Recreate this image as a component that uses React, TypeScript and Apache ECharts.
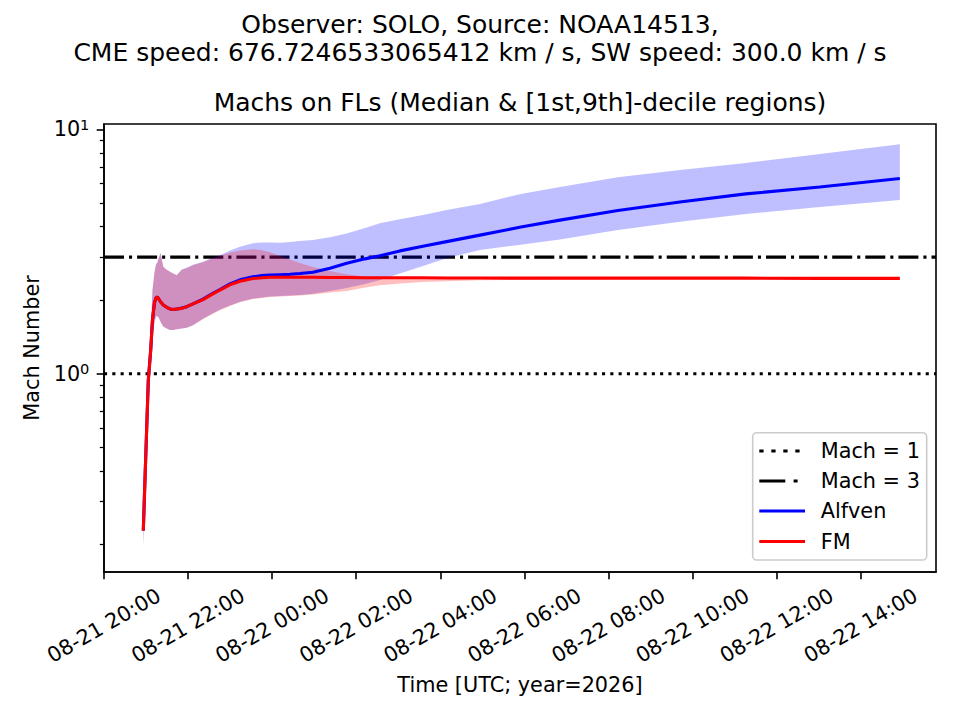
import React, { useEffect, useRef } from "react";
import * as echarts from "echarts";

const FONT = '"DejaVu Sans", "Liberation Sans", sans-serif';

// ---- texts ----
const suptitleLines = [
  "Observer: SOLO, Source: NOAA14513,",
  "CME speed: 676.7246533065412 km / s, SW speed: 300.0 km / s",
];
const axesTitle = "Machs on FLs (Median & [1st,9th]-decile regions)";
const xLabel = "Time [UTC; year=2026]";
const yLabel = "Mach Number";
const legendLabels = ["Mach = 1", "Mach = 3", "Alfven", "FM"];

// ---- ticks (hours counted from 08-21 00:00) ----
const xTickHours = [20, 22, 24, 26, 28, 30, 32, 34, 36, 38];
const yMajorTicks = [1, 10];
const yMinorTicks = [0.2, 0.3, 0.4, 0.5, 0.6, 0.7, 0.8, 0.9, 2, 3, 4, 5, 6, 7, 8, 9];
const machLevels = [1, 3];
const xMin = 20;
const xMax = 39.79;
const yMin = 0.1544;
const yMax = 10.51;

// ---- data: time in hours since 2026-08-21 00:00 UTC ----
const times = [
  20.935, 20.975, 21.054, 21.111, 21.153, 21.201, 21.237, 21.268, 21.296, 21.344,
  21.41, 21.491, 21.57, 21.648, 21.729, 21.848, 21.967, 22.117, 22.354, 22.568,
  22.759, 22.996, 23.234, 23.543, 23.757, 23.948, 24.186, 24.423, 24.661, 24.97,
  25.375, 25.772, 26.207, 26.564, 27.039, 27.586, 28.15, 28.942, 29.917, 30.844,
  32.223, 33.698, 35.267, 37.027, 38.93,
];
const alfvenMedian = [
  0.228, 0.37, 0.94, 1.25, 1.66, 1.95, 2.04, 2.06, 2.03, 1.97,
  1.91, 1.87, 1.84, 1.83, 1.84, 1.855, 1.88, 1.93, 2.02, 2.12,
  2.21, 2.33, 2.42, 2.49, 2.52, 2.53, 2.54, 2.55, 2.57, 2.6,
  2.7, 2.83, 2.95, 3.04, 3.18, 3.32, 3.47, 3.69, 3.98, 4.25,
  4.65, 5.04, 5.44, 5.81, 6.29,
];
const alfvenLow = [
  0.197, 0.33, 0.85, 1.15, 1.45, 1.62, 1.72, 1.72, 1.7, 1.63,
  1.56, 1.53, 1.51, 1.51, 1.52, 1.53, 1.54, 1.58, 1.68, 1.76,
  1.83, 1.9, 1.97, 2.03, 2.05, 2.07, 2.08, 2.09, 2.1, 2.125,
  2.18, 2.24, 2.33, 2.42, 2.57, 2.76, 2.97, 3.21, 3.37, 3.54,
  3.87, 4.18, 4.5, 4.81, 5.14,
];
const alfvenHigh = [
  0.24, 0.42, 1.05, 1.45, 2.2, 2.6, 2.8, 2.85, 2.95, 3.13,
  2.74, 2.66, 2.61, 2.57, 2.53, 2.67, 2.71, 2.79, 2.87, 2.97,
  3.05, 3.19, 3.31, 3.42, 3.44, 3.44, 3.43, 3.46, 3.49, 3.52,
  3.62, 3.75, 3.95, 4.13, 4.28, 4.46, 4.68, 4.95, 5.44, 5.81,
  6.36, 6.82, 7.28, 7.92, 8.68,
];
const fmMedian = [
  0.228, 0.37, 0.94, 1.25, 1.66, 1.95, 2.04, 2.06, 2.03, 1.97,
  1.91, 1.87, 1.84, 1.83, 1.84, 1.85, 1.88, 1.93, 2.01, 2.11,
  2.2, 2.31, 2.39, 2.45, 2.47, 2.48, 2.48, 2.48, 2.48, 2.48,
  2.475, 2.475, 2.47, 2.47, 2.47, 2.47, 2.465, 2.465, 2.46, 2.46,
  2.46, 2.46, 2.46, 2.455, 2.455,
];
const fmLow = [
  0.197, 0.33, 0.85, 1.15, 1.45, 1.62, 1.72, 1.72, 1.7, 1.63,
  1.56, 1.53, 1.51, 1.51, 1.52, 1.53, 1.54, 1.58, 1.67, 1.75,
  1.82, 1.89, 1.96, 2.02, 2.04, 2.06, 2.07, 2.08, 2.09, 2.11,
  2.15, 2.18, 2.25, 2.3, 2.34, 2.37, 2.39, 2.41, 2.42, 2.43,
  2.435, 2.44, 2.44, 2.44, 2.44,
];
const fmHigh = [
  0.24, 0.42, 1.05, 1.45, 2.2, 2.6, 2.8, 2.85, 2.95, 3.1,
  2.74, 2.66, 2.61, 2.57, 2.53, 2.66, 2.7, 2.78, 2.86, 2.96,
  3.03, 3.13, 3.19, 3.23, 3.2, 3.14, 3.03, 2.93, 2.84, 2.73,
  2.63, 2.55, 2.5, 2.49, 2.49, 2.485, 2.48, 2.48, 2.475, 2.475,
  2.47, 2.47, 2.47, 2.465, 2.465,
];

const pad2 = (n: number) => String(n).padStart(2, "0");
const fmtTime = (v: number) => {
  const day = 21 + Math.floor(v / 24);
  const h = Math.round(v - (day - 21) * 24);
  return `08-${day} ${pad2(h)}:00`;
};

const bandSeries = (name: string, low: number[], high: number[], fill: string) => ({
  type: "custom",
  name,
  coordinateSystem: "cartesian2d",
  silent: true,
  z: 2,
  data: [[times[0], low[0]]],
  encode: { x: 0, y: 1 },
  renderItem: (_params: any, api: any) => {
    const pts: number[][] = [];
    for (let i = 0; i < times.length; i++) pts.push(api.coord([times[i], high[i]]));
    for (let i = times.length - 1; i >= 0; i--) pts.push(api.coord([times[i], low[i]]));
    return { type: "polygon", shape: { points: pts }, style: { fill } };
  },
});

const lineSeries = (name: string, vals: number[], color: string) => ({
  type: "line",
  name,
  data: times.map((t, i) => [t, vals[i]]),
  symbol: "none",
  showSymbol: false,
  silent: true,
  z: 3,
  lineStyle: { color, width: 3.1 },
});

const machDash = [
  [3.1, 5.2],
  [20, 5, 3.1, 5],
];
const legendDash: (number[] | null)[] = [[4.3, 7.7], [26, 8.3, 4, 8.3], null, null];
const legendColors = ["#000000", "#000000", "#0000ff", "#ff0000"];
const legendRowsY = [451, 481, 511, 541.5];

export default function App() {
  const ref = useRef<HTMLDivElement>(null);
  useEffect(() => {
    if (!ref.current) return;
    const chart = echarts.init(ref.current, null, { renderer: "svg" });
    const machSeries = machLevels.map((lvl, i) => ({
      type: "line",
      name: legendLabels[i],
      data: [
        [xMin, lvl],
        [xMax, lvl],
      ],
      symbol: "none",
      silent: true,
      z: 1,
      lineStyle: { color: "#000000", width: 3.1, type: machDash[i] },
    }));

    const legendGraphics: any[] = [
      {
        type: "rect",
        shape: { x: 752.7, y: 432.7, width: 174, height: 127.3, r: 4 },
        style: { fill: "rgba(255,255,255,0.8)", stroke: "#cccccc", lineWidth: 1.6 },
        z: 100,
      },
    ];
    legendLabels.forEach((lab, i) => {
      legendGraphics.push({
        type: "line",
        shape: { x1: 759.3, y1: legendRowsY[i], x2: 805, y2: legendRowsY[i] },
        style: {
          stroke: legendColors[i],
          lineWidth: 3.2,
          lineDash: legendDash[i] || undefined,
        },
        z: 101,
      });
      legendGraphics.push({
        type: "text",
        x: 820.7,
        y: legendRowsY[i],
        style: {
          text: lab,
          fontSize: 20.8,
          fontFamily: FONT,
          fill: "#000000",
          align: "left",
          verticalAlign: "middle",
        },
        z: 101,
      });
    });

    const titleStyle = (size: number) => ({
      fontSize: size,
      fontWeight: "normal",
      color: "#000000",
      fontFamily: FONT,
    });

    chart.setOption({
      animation: false,
      backgroundColor: "#ffffff",
      textStyle: { fontFamily: FONT, color: "#000000" },
      title: [
        { text: suptitleLines[0], left: 480, top: 24.7, textAlign: "center", textVerticalAlign: "middle", padding: 0, textStyle: titleStyle(25) },
        { text: suptitleLines[1], left: 480, top: 52.4, textAlign: "center", textVerticalAlign: "middle", padding: 0, textStyle: titleStyle(25) },
        { text: axesTitle, left: 520, top: 102.4, textAlign: "center", textVerticalAlign: "middle", padding: 0, textStyle: titleStyle(25) },
      ],
      grid: {
        left: 104,
        top: 124,
        width: 832,
        height: 448,
        show: true,
        borderColor: "#000000",
        borderWidth: 1.6,
        backgroundColor: "transparent",
        containLabel: false,
        outerBoundsMode: "none",
      },
      xAxis: {
        type: "value",
        min: xMin,
        max: xMax,
        name: xLabel,
        nameLocation: "middle",
        nameGap: 102.6,
        nameTextStyle: { fontSize: 20.8, color: "#000000", fontFamily: FONT },
        axisLine: { show: true, lineStyle: { color: "#000000", width: 1.6 } },
        axisTick: { show: true, length: 7.3, lineStyle: { color: "#000000", width: 1.6 }, customValues: xTickHours },
        axisLabel: {
          customValues: xTickHours,
          formatter: (v: number) => fmtTime(v),
          rotate: 30,
          align: "center",
          verticalAlign: "middle",
          margin: 53.5,
          fontSize: 20.8,
          color: "#000000",
          fontFamily: FONT,
        },
        splitLine: { show: false },
      },
      yAxis: [
        {
          type: "log",
          logBase: 10,
          min: yMin,
          max: yMax,
          name: yLabel,
          nameLocation: "middle",
          nameGap: 60.6,
          nameTextStyle: { fontSize: 20.8, color: "#000000", fontFamily: FONT },
          axisLine: { show: true, lineStyle: { color: "#000000", width: 1.6 } },
          axisTick: { show: true, length: 7.3, lineStyle: { color: "#000000", width: 1.6 }, customValues: yMajorTicks },
          axisLabel: {
            customValues: yMajorTicks,
            margin: 14.6,
            formatter: (v: number) => `{b|10}{s|${Math.round(Math.log10(v))}}`,
            rich: {
              b: { fontSize: 20.8, color: "#000000", fontFamily: FONT },
              s: { fontSize: 14.6, color: "#000000", fontFamily: FONT, padding: [0, 0, 10, 0] },
            },
          },
          splitLine: { show: false },
          minorTick: { show: false },
        },
        {
          type: "log",
          logBase: 10,
          min: yMin,
          max: yMax,
          position: "left",
          offset: 0,
          axisLine: { show: false },
          axisTick: { show: true, length: 4.2, lineStyle: { color: "#000000", width: 1.25 }, customValues: yMinorTicks },
          axisLabel: { show: false },
          splitLine: { show: false },
          minorTick: { show: false },
        },
      ],
      series: [
        ...machSeries,
        bandSeries("Alfven band", alfvenLow, alfvenHigh, "rgba(0,0,255,0.25)"),
        bandSeries("FM band", fmLow, fmHigh, "rgba(255,0,0,0.25)"),
        lineSeries("Alfven", alfvenMedian, "#0000ff"),
        lineSeries("FM", fmMedian, "#ff0000"),
      ],
      graphic: legendGraphics,
    });
    return () => chart.dispose();
  }, []);
  return (
    <div
      ref={ref}
      style={{ position: "absolute", left: 0, top: 0, width: 960, height: 720, background: "#ffffff" }}
    />
  );
}
